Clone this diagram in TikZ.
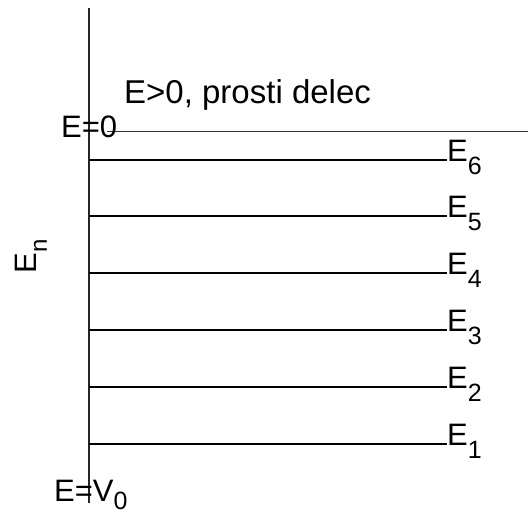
\documentclass[tikz,border=0pt]{standalone}
\usepackage{fontspec}
\setmainfont{Liberation Sans}
\newcommand{\lvl}[1]{E\raisebox{-0.4em}{\fontsize{25}{25}\selectfont #1}}
\begin{document}
\begin{tikzpicture}[x=1pt,y=-1pt,
  lev/.style={line width=2pt,black},
  lab/.style={font=\fontsize{31}{33}\selectfont,inner sep=0pt},
  big/.style={font=\fontsize{33}{35}\selectfont,inner sep=0pt},
  axis/.style={line width=1.3pt,black!85}]
\useasboundingbox (0,0) rectangle (528,518);
\coordinate (top) at (89,8);
\coordinate (bot) at (89,503);
\draw[axis] (top) -- (bot);
\coordinate (z0) at (107,131.5);
\coordinate (z1) at (528,131.5);
\draw[line width=1pt,black!80] (z0) -- (z1);
\foreach \i/\y in {6/160,5/216,4/273,3/330,2/387,1/444}{
  \coordinate (s\i) at (89,\y);
  \node[lab,anchor=base west] (e\i) at (447,\y+2) {\lvl{\i}};
  \draw[lev] (s\i) -- (e\i.base west |- s\i);
}
\node[big,anchor=base west] (pos) at (124,104) {E>0, prosti delec};
\node[lab,anchor=base west] (ez) at (61,138) {E=0};
\node[lab,anchor=base west] (ev) at (54,502) {E=V\raisebox{-0.25em}{\fontsize{25}{25}\selectfont 0}};
\node[lab,rotate=90,anchor=base] (en) at (36,256) {E\raisebox{-0.35em}{\fontsize{24}{24}\selectfont n}};
\end{tikzpicture}
\end{document}
